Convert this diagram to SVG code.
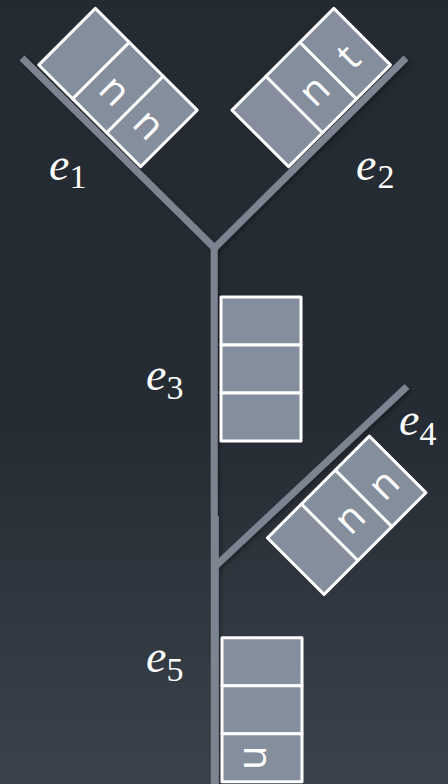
<svg xmlns="http://www.w3.org/2000/svg" width="448" height="784" viewBox="0 0 448 784">
  <defs>
    <linearGradient id="bg" x1="0" y1="0" x2="0" y2="1">
      <stop offset="0" stop-color="#242a31"/>
      <stop offset="0.55" stop-color="#262c34"/>
      <stop offset="1" stop-color="#3a424b"/>
    </linearGradient>
    <filter id="shadow" x="-10%" y="-10%" width="130%" height="130%">
      <feDropShadow dx="2" dy="2" stdDeviation="2" flood-color="#000" flood-opacity="0.35"/>
    </filter>
    <!-- a three-slot queue, long axis along local x, slots on the -y side -->
    <g id="queue">
      <rect class="cell" x="0" y="-80" width="48" height="80"/>
      <rect class="cell" x="48" y="-80" width="48" height="80"/>
      <rect class="cell" x="96" y="-80" width="48" height="80"/>
    </g>
  </defs>
  <style>
    .edge { fill: none; stroke: #7b8492; stroke-width: 7; stroke-linecap: butt; }
    .cell { fill: #858e9c; stroke: #ffffff; stroke-width: 3; stroke-linejoin: round; }
    .tok { font-family: "Open Sans", "Noto Sans", sans-serif; font-size: 40px; fill: #ffffff; text-anchor: middle; }
    .lab { font-family: "Liberation Serif", serif; font-style: italic; font-size: 46px; fill: #ffffff; }
    .sub { font-style: normal; font-size: 34px; }
  </style>

  <rect width="448" height="784" fill="url(#bg)"/>

  <!-- edges of the tree -->
  <g id="connectors" filter="url(#shadow)">
    <polyline class="edge" points="22,58 214.5,248 406,58" stroke-linejoin="miter"/>
    <line class="edge" x1="214.2" y1="246" x2="214.2" y2="516"/>
    <line class="edge" x1="214.8" y1="516" x2="214.8" y2="784" style="stroke-width:8"/>
    <line class="edge" x1="407" y1="386.5" x2="214.5" y2="567"/>
  </g>

  <!-- queues sitting on each edge -->
  <g id="q1" transform="translate(38.8,64.9) rotate(45)">
    <use href="#queue"/>
    <text class="tok" x="72" y="-22.3">n</text>
    <text class="tok" x="120" y="-22.3">n</text>
  </g>
  <g id="q2" transform="translate(288.6,166.7) rotate(-45)">
    <use href="#queue"/>
    <text class="tok" x="72" y="-22.3">n</text>
    <text class="tok" x="120" y="-22.3">t</text>
  </g>
  <g id="q3" transform="translate(221,297) rotate(90)">
    <use href="#queue"/>
  </g>
  <g id="q4" transform="translate(267.5,537.9) rotate(-45) translate(0,80)">
    <use href="#queue"/>
    <text class="tok" x="72" y="-22.3">n</text>
    <text class="tok" x="120" y="-22.3">n</text>
  </g>
  <g id="q5" transform="translate(222,637.7) rotate(90)">
    <use href="#queue"/>
    <text class="tok" x="120" y="-22.3">n</text>
  </g>

  <!-- edge names -->
  <g id="labels">
    <text class="lab" x="49" y="180">e<tspan class="sub" dy="8">1</tspan></text>
    <text class="lab" x="356" y="180">e<tspan class="sub" dx="1" dy="8">2</tspan></text>
    <text class="lab" x="146" y="390">e<tspan class="sub" dy="9">3</tspan></text>
    <text class="lab" x="399" y="435">e<tspan class="sub" dy="10">4</tspan></text>
    <text class="lab" x="146" y="672">e<tspan class="sub" dy="9">5</tspan></text>
  </g>
</svg>
